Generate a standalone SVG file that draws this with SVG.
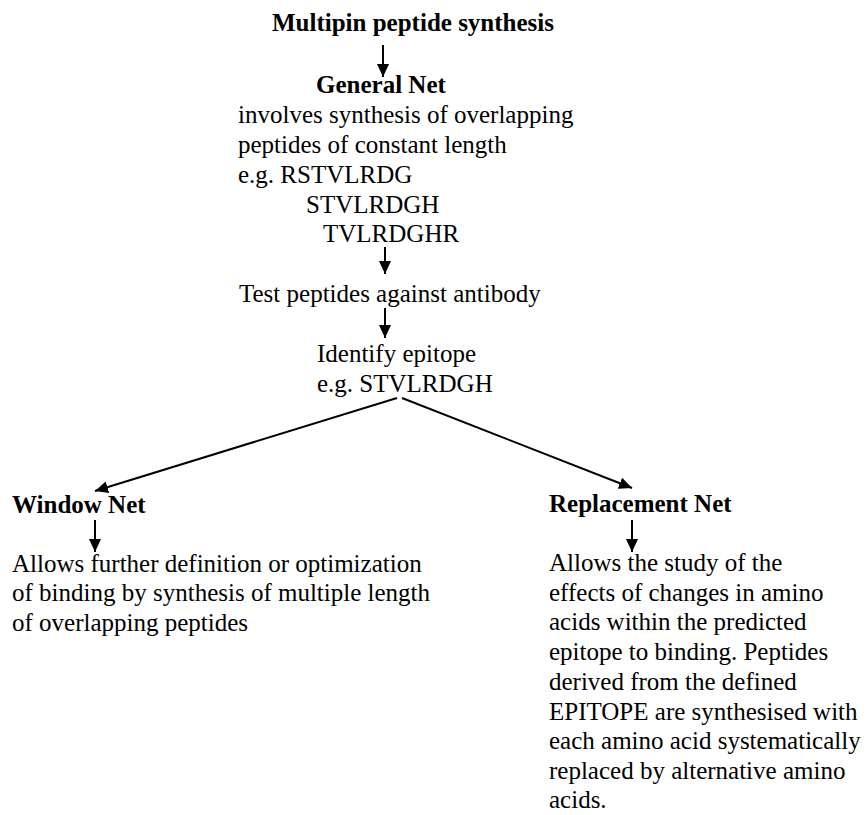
<svg xmlns="http://www.w3.org/2000/svg" width="867" height="815" viewBox="0 0 867 815">
<defs>
<style>
text{font-family:"Liberation Serif","Times New Roman",serif;font-size:25px;fill:#000}
.b{font-weight:bold}
.c{stroke:#000;stroke-width:2;fill:none}
</style>
<marker id="ah" markerUnits="userSpaceOnUse" markerWidth="14" markerHeight="12" refX="13" refY="6" orient="auto">
<path d="M0,0 L13,6 L0,12 Z" fill="#000"/>
</marker>
</defs>
<rect width="867" height="815" fill="#fff"/>
<g id="connectors">
<line class="c" x1="383" y1="45" x2="383" y2="77" marker-end="url(#ah)"/>
<line class="c" x1="385" y1="247" x2="385" y2="274" marker-end="url(#ah)"/>
<line class="c" x1="385" y1="308" x2="385" y2="338" marker-end="url(#ah)"/>
<line class="c" x1="397" y1="398" x2="95" y2="491" marker-end="url(#ah)"/>
<line class="c" x1="402" y1="398" x2="632" y2="488" marker-end="url(#ah)"/>
<line class="c" x1="95" y1="520" x2="95" y2="552" marker-end="url(#ah)"/>
<line class="c" x1="632" y1="520" x2="632" y2="552" marker-end="url(#ah)"/>
</g>
<g id="title"><text class="b" x="272" y="31">Multipin peptide synthesis</text></g>
<g id="general">
<text class="b" x="316" y="93">General Net</text>
<text x="238" y="123">involves synthesis of overlapping</text>
<text x="238" y="153">peptides of constant length</text>
<text x="238" y="183">e.g. RSTVLRDG</text>
<text x="306" y="213">STVLRDGH</text>
<text x="323" y="242">TVLRDGHR</text>
</g>
<g id="test"><text x="239" y="302">Test peptides against antibody</text></g>
<g id="identify">
<text x="317" y="362">Identify epitope</text>
<text x="317" y="392">e.g. STVLRDGH</text>
</g>
<g id="window">
<text class="b" x="12" y="513">Window Net</text>
<text x="12" y="572">Allows further definition or optimization</text>
<text x="12" y="601">of binding by synthesis of multiple length</text>
<text x="12" y="631">of overlapping peptides</text>
</g>
<g id="replacement">
<text class="b" x="549" y="512">Replacement Net</text>
<text x="549" y="571">Allows the study of the</text>
<text x="549" y="601">effects of changes in amino</text>
<text x="549" y="630">acids within the predicted</text>
<text x="549" y="660">epitope to binding. Peptides</text>
<text x="549" y="690">derived from the defined</text>
<text x="549" y="720">EPITOPE are synthesised with</text>
<text x="549" y="749">each amino acid systematically</text>
<text x="549" y="779">replaced by alternative amino</text>
<text x="549" y="808">acids.</text>
</g>
</svg>
